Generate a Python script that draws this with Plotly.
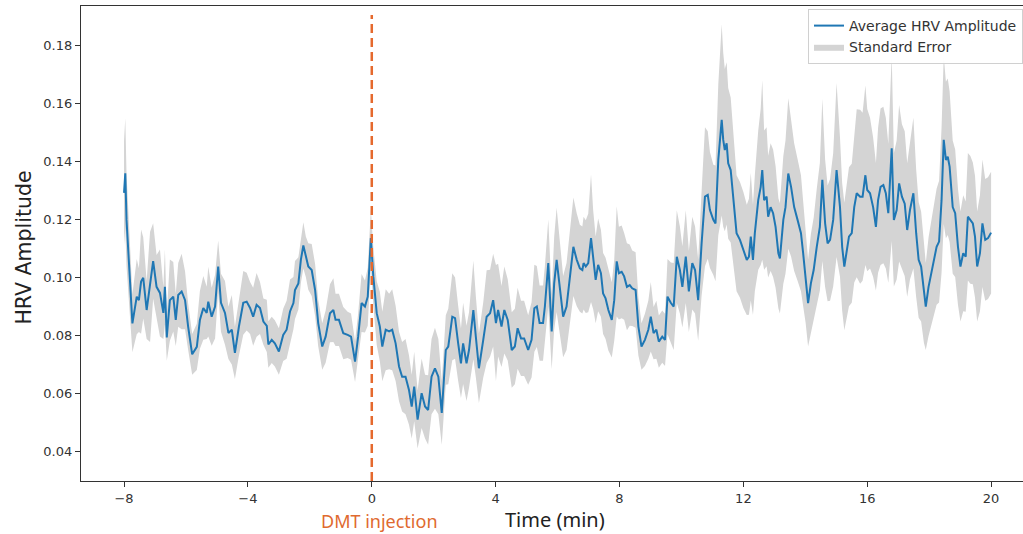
import numpy as np
import plotly.graph_objects as go

# ---------------- data ----------------
time_min = [
    -8.00, -7.96, -7.92, -7.83, -7.73, -7.59, -7.52, -7.45, -7.38, -7.27,
    -7.16, -7.06, -6.95, -6.84, -6.73, -6.68, -6.62, -6.52, -6.41, -6.33,
    -6.25, -6.14, -6.03, -5.93, -5.80, -5.65, -5.55, -5.44, -5.33, -5.28,
    -5.17, -5.06, -4.96, -4.87, -4.74, -4.63, -4.52, -4.42, -4.29, -4.15,
    -4.04, -3.93, -3.83, -3.72, -3.61, -3.50, -3.39, -3.34, -3.23, -3.13,
    -3.00, -2.86, -2.75, -2.64, -2.53, -2.48, -2.37, -2.29, -2.21, -2.13,
    -2.05, -1.94, -1.83, -1.73, -1.60, -1.49, -1.35, -1.24, -1.17, -1.06,
    -0.92, -0.78, -0.67, -0.54, -0.44, -0.33, -0.22, -0.13, -0.03, 0.05,
    0.16, 0.26, 0.34, 0.45, 0.56, 0.66, 0.77, 0.88, 0.98, 1.09,
    1.20, 1.29, 1.37, 1.48, 1.61, 1.72, 1.82, 1.93, 2.04, 2.15,
    2.26, 2.39, 2.47, 2.60, 2.69, 2.79, 2.88, 2.95, 3.06, 3.14,
    3.28, 3.36, 3.46, 3.60, 3.71, 3.82, 3.92, 4.01, 4.08, 4.19,
    4.28, 4.39, 4.52, 4.62, 4.71, 4.82, 4.92, 5.05, 5.16, 5.25,
    5.33, 5.42, 5.53, 5.59, 5.70, 5.81, 5.89, 5.97, 6.08, 6.18,
    6.29, 6.40, 6.51, 6.62, 6.72, 6.80, 6.84, 6.91, 6.99, 7.08,
    7.15, 7.23, 7.31, 7.40, 7.47, 7.55, 7.64, 7.75, 7.83, 7.91,
    7.98, 8.07, 8.15, 8.24, 8.33, 8.41, 8.52, 8.61, 8.71, 8.82,
    8.93, 9.01, 9.10, 9.19, 9.27, 9.38, 9.47, 9.55, 9.66, 9.75,
    9.85, 9.95, 10.03, 10.14, 10.24, 10.35, 10.44, 10.54, 10.65, 10.76,
    10.85, 10.92, 11.03, 11.10, 11.19, 11.30, 11.35, 11.40, 11.46, 11.51,
    11.59, 11.64, 11.71, 11.78, 11.89, 12.00, 12.11, 12.18, 12.24, 12.31,
    12.37, 12.48, 12.56, 12.61, 12.67, 12.75, 12.80, 12.88, 12.96, 13.04,
    13.13, 13.18, 13.29, 13.36, 13.45, 13.54, 13.64, 13.75, 13.86, 13.93,
    14.01, 14.09, 14.18, 14.27, 14.37, 14.47, 14.55, 14.64, 14.72, 14.80,
    14.90, 15.01, 15.12, 15.19, 15.26, 15.33, 15.41, 15.50, 15.58, 15.66,
    15.77, 15.85, 15.94, 16.00, 16.09, 16.19, 16.28, 16.35, 16.43, 16.52,
    16.60, 16.68, 16.79, 16.86, 16.95, 17.03, 17.12, 17.21, 17.29, 17.38,
    17.49, 17.58, 17.66, 17.74, 17.83, 17.89, 17.98, 18.07, 18.15, 18.24,
    18.32, 18.40, 18.47, 18.54, 18.60, 18.66, 18.76, 18.84, 18.93, 19.01,
    19.10, 19.18, 19.25, 19.33, 19.41, 19.48, 19.55, 19.64, 19.72, 19.81,
    19.90, 20.00,
]

hrv_mean = [
    0.1292, 0.1360, 0.1199, 0.1018, 0.0842, 0.0934, 0.0922, 0.0986, 0.0999, 0.0888,
    0.0968, 0.1057, 0.0968, 0.0947, 0.0878, 0.0968, 0.0793, 0.0922, 0.0934, 0.0854,
    0.0940, 0.0952, 0.0922, 0.0831, 0.0735, 0.0761, 0.0854, 0.0895, 0.0878, 0.0917,
    0.0865, 0.0900, 0.1038, 0.0913, 0.0878, 0.0809, 0.0820, 0.0740, 0.0831, 0.0913,
    0.0917, 0.0895, 0.0865, 0.0906, 0.0895, 0.0848, 0.0833, 0.0769, 0.0785, 0.0773,
    0.0745, 0.0802, 0.0820, 0.0883, 0.0912, 0.0957, 0.0980, 0.1061, 0.1111, 0.1072,
    0.1038, 0.1026, 0.0957, 0.0843, 0.0762, 0.0796, 0.0877, 0.0888, 0.0854, 0.0854,
    0.0808, 0.0802, 0.0796, 0.0710, 0.0796, 0.0912, 0.0900, 0.0934, 0.1136, 0.1004,
    0.0877, 0.0831, 0.0762, 0.0820, 0.0814, 0.0820, 0.0773, 0.0693, 0.0658, 0.0658,
    0.0613, 0.0555, 0.0624, 0.0510, 0.0601, 0.0555, 0.0543, 0.0658, 0.0687, 0.0658,
    0.0533, 0.0750, 0.0762, 0.0865, 0.0860, 0.0773, 0.0704, 0.0773, 0.0704, 0.0750,
    0.0888, 0.0796, 0.0687, 0.0785, 0.0865, 0.0877, 0.0922, 0.0843, 0.0888, 0.0831,
    0.0888, 0.0854, 0.0750, 0.0762, 0.0825, 0.0790, 0.0790, 0.0750, 0.0785, 0.0894,
    0.0900, 0.0843, 0.0843, 0.0900, 0.1050, 0.0814, 0.0980, 0.1061, 0.0957, 0.0865,
    0.0900, 0.0999, 0.1106, 0.1061, 0.1032, 0.1026, 0.1050, 0.1038, 0.1050, 0.1136,
    0.1061, 0.0992, 0.1044, 0.1015, 0.0945, 0.0928, 0.0888, 0.0854, 0.0922, 0.1056,
    0.1015, 0.1020, 0.1004, 0.0968, 0.0974, 0.0963, 0.0957, 0.0831, 0.0762, 0.0785,
    0.0820, 0.0865, 0.0808, 0.0820, 0.0779, 0.0796, 0.0785, 0.0934, 0.0912, 0.0900,
    0.1072, 0.1026, 0.0968, 0.1072, 0.0952, 0.1050, 0.1026, 0.0922, 0.1116, 0.1279,
    0.1285, 0.1233, 0.1199, 0.1187, 0.1406, 0.1544, 0.1475, 0.1440, 0.1463, 0.1394,
    0.1371, 0.1313, 0.1243, 0.1153, 0.1130, 0.1095, 0.1061, 0.1072, 0.1141, 0.1061,
    0.1153, 0.1267, 0.1313, 0.1371, 0.1267, 0.1279, 0.1210, 0.1243, 0.1222, 0.1175,
    0.1084, 0.1066, 0.1199, 0.1243, 0.1359, 0.1313, 0.1243, 0.1199, 0.1153, 0.1084,
    0.1004, 0.0912, 0.0980, 0.1026, 0.1106, 0.1175, 0.1337, 0.1187, 0.1118, 0.1130,
    0.1199, 0.1371, 0.1243, 0.1106, 0.1038, 0.1084, 0.1141, 0.1153, 0.1243, 0.1291,
    0.1279, 0.1279, 0.1353, 0.1302, 0.1291, 0.1243, 0.1175, 0.1267, 0.1313, 0.1319,
    0.1291, 0.1222, 0.1446, 0.1199, 0.1233, 0.1325, 0.1279, 0.1255, 0.1164, 0.1233,
    0.1291, 0.1153, 0.1061, 0.1038, 0.0945, 0.0900, 0.0968, 0.1015, 0.1061, 0.1106,
    0.1124, 0.1267, 0.1475, 0.1406, 0.1417, 0.1383, 0.1243, 0.1222, 0.1106, 0.1038,
    0.1084, 0.1072, 0.1210, 0.1199, 0.1187, 0.1141, 0.1038, 0.1084, 0.1187, 0.1130,
    0.1136, 0.1155,
]

hrv_se = [
    0.018, 0.019, 0.016, 0.012, 0.010, 0.013, 0.011, 0.018, 0.014, 0.010,
    0.019, 0.013, 0.011, 0.015, 0.009, 0.013, 0.008, 0.014, 0.012, 0.009,
    0.011, 0.013, 0.010, 0.008, 0.007, 0.008, 0.010, 0.011, 0.009, 0.012,
    0.010, 0.011, 0.009, 0.010, 0.011, 0.009, 0.012, 0.009, 0.010, 0.011,
    0.010, 0.009, 0.010, 0.011, 0.009, 0.008, 0.009, 0.008, 0.008, 0.008,
    0.008, 0.009, 0.010, 0.011, 0.009, 0.010, 0.009, 0.008, 0.008, 0.007,
    0.008, 0.009, 0.009, 0.008, 0.008, 0.009, 0.010, 0.011, 0.009, 0.009,
    0.009, 0.008, 0.008, 0.007, 0.008, 0.010, 0.009, 0.010, 0.010, 0.010,
    0.011, 0.012, 0.012, 0.014, 0.013, 0.014, 0.013, 0.012, 0.012, 0.013,
    0.012, 0.011, 0.012, 0.010, 0.012, 0.011, 0.012, 0.013, 0.014, 0.013,
    0.011, 0.012, 0.013, 0.015, 0.014, 0.013, 0.012, 0.014, 0.013, 0.013,
    0.017, 0.014, 0.012, 0.013, 0.016, 0.015, 0.016, 0.020, 0.016, 0.014,
    0.015, 0.014, 0.013, 0.013, 0.014, 0.013, 0.013, 0.012, 0.013, 0.015,
    0.014, 0.013, 0.013, 0.014, 0.015, 0.013, 0.016, 0.018, 0.015, 0.014,
    0.015, 0.016, 0.017, 0.016, 0.015, 0.015, 0.016, 0.016, 0.017, 0.022,
    0.017, 0.015, 0.016, 0.015, 0.014, 0.014, 0.014, 0.013, 0.014, 0.019,
    0.016, 0.016, 0.015, 0.015, 0.014, 0.013, 0.013, 0.010, 0.008, 0.009,
    0.010, 0.012, 0.009, 0.010, 0.009, 0.009, 0.009, 0.013, 0.014, 0.015,
    0.016, 0.015, 0.014, 0.016, 0.014, 0.016, 0.015, 0.014, 0.018, 0.024,
    0.022, 0.020, 0.019, 0.020, 0.026, 0.033, 0.030, 0.028, 0.028, 0.026,
    0.025, 0.024, 0.022, 0.020, 0.020, 0.020, 0.019, 0.020, 0.022, 0.019,
    0.020, 0.024, 0.027, 0.031, 0.024, 0.024, 0.021, 0.022, 0.022, 0.021,
    0.019, 0.019, 0.022, 0.023, 0.026, 0.024, 0.022, 0.021, 0.020, 0.018,
    0.016, 0.015, 0.017, 0.018, 0.020, 0.022, 0.028, 0.022, 0.020, 0.021,
    0.023, 0.030, 0.024, 0.022, 0.022, 0.023, 0.024, 0.024, 0.026, 0.029,
    0.030, 0.029, 0.031, 0.028, 0.026, 0.024, 0.022, 0.025, 0.027, 0.027,
    0.026, 0.024, 0.032, 0.023, 0.024, 0.027, 0.025, 0.025, 0.023, 0.024,
    0.026, 0.022, 0.020, 0.019, 0.017, 0.015, 0.017, 0.018, 0.019, 0.020,
    0.021, 0.025, 0.029, 0.027, 0.027, 0.026, 0.023, 0.022, 0.020, 0.019,
    0.020, 0.019, 0.022, 0.022, 0.021, 0.021, 0.019, 0.020, 0.022, 0.021,
    0.021, 0.021,
]

x_ticks = [-8, -4, 0, 4, 8, 12, 16, 20]
x_tick_text = ["\u22128", "\u22124", "0", "4", "8", "12", "16", "20"]
y_ticks = [0.04, 0.06, 0.08, 0.10, 0.12, 0.14, 0.16, 0.18]
injection_time = 0

# ---------------- figure ----------------
t = np.array(time_min)
m = np.array(hrv_mean)
s = np.array(hrv_se)
upper = m + s
lower = m - s

fig = go.Figure()
fig.add_trace(go.Scatter(
    x=np.concatenate([t, t[::-1]]),
    y=np.concatenate([upper, lower[::-1]]),
    fill="toself", fillcolor="#d4d4d4",
    line=dict(width=0, color="#d4d4d4"),
    mode="lines", name="Standard Error", legendrank=2, hoverinfo="skip",
))
fig.add_trace(go.Scatter(
    x=t, y=m, mode="lines",
    line=dict(color="#1f77b4", width=2),
    name="Average HRV Amplitude", legendrank=1,
))

fig.add_shape(type="line", xref="x", yref="paper",
              x0=injection_time, x1=injection_time, y0=0, y1=0.981,
              line=dict(color="#e5692d", width=2.5, dash="9px,5px"),
              layer="above")

axis_font = dict(family="DejaVu Sans", size=13, color="#333333")
fig.update_xaxes(range=[-9.39, 21.03], tickvals=x_ticks, ticktext=x_tick_text,
                 ticks="outside", ticklen=5, tickcolor="#333333", tickwidth=1,
                 showline=True, linecolor="#333333", linewidth=1.2, mirror=True,
                 showgrid=False, zeroline=False, tickfont=axis_font)
fig.update_yaxes(range=[0.0298, 0.1937], tickvals=y_ticks, tickformat=".2f",
                 ticks="outside", ticklen=5, tickcolor="#333333", tickwidth=1,
                 showline=True, linecolor="#333333", linewidth=1.2,
                 showgrid=False, zeroline=False, tickfont=axis_font)

fig.add_annotation(text="HRV Amplitude", textangle=-90, xref="paper", yref="paper",
                   x=-0.061, y=0.4905, showarrow=False, xanchor="center", yanchor="middle",
                   font=dict(family="DejaVu Sans", size=20.5, color="#222222"))
fig.add_annotation(text="Time (min)", xref="paper", yref="paper",
                   x=0.5032, y=-0.080, showarrow=False, xanchor="center", yanchor="middle",
                   font=dict(family="Noto Sans", size=20, color="#222222"))
fig.add_annotation(text="DMT injection", xref="paper", yref="paper",
                   x=0.3174, y=-0.0842, showarrow=False, xanchor="center", yanchor="middle",
                   font=dict(family="Noto Sans", size=18, color="#e06a2f"))

fig.update_layout(
    width=1023, height=534,
    margin=dict(l=81, r=0, t=6, b=53),
    paper_bgcolor="white", plot_bgcolor="white",
    legend=dict(x=1.0, xanchor="right", y=0.9937, yanchor="top",
                bgcolor="rgba(255,255,255,0.9)", bordercolor="#d0d0d0", borderwidth=1,
                font=dict(family="DejaVu Sans", size=14, color="#333333")),
    showlegend=True,
)

fig.write_html("out.html")
